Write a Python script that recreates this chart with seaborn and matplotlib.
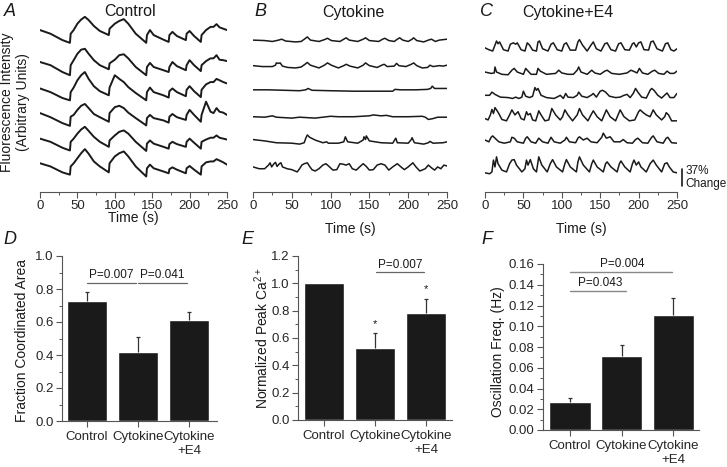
import matplotlib.pyplot as plt
from matplotlib.ticker import MultipleLocator
import seaborn as sns

# ---------- data ----------
# Control traces share one time grid (s); values are % change above each trace's own minimum
control_t = [0, 14, 30, 40, 41, 45, 50, 55, 60, 65, 72, 80, 92, 93, 100, 106, 112, 118, 128, 142,
             143, 147, 152, 165, 172, 173, 177, 183, 195, 196, 200, 206, 215, 216, 222, 228, 232, 236,
             240, 245, 250]
control_1 = [28, 20, 6, 0, 20, 28, 42, 51, 57, 50, 37, 26, 17, 31, 42, 48, 52, 42, 20, 0,
             17, 28, 17, 7, 2, 17, 24, 15, 6, 20, 26, 15, 2, 17, 28, 35, 35, 41, 34, 31, 28]
control_2 = [29, 22, 7, 0, 22, 33, 47, 56, 58, 47, 33, 22, 13, 26, 34, 44, 46, 37, 18, 0,
             18, 27, 18, 11, 7, 18, 29, 20, 11, 22, 33, 22, 9, 22, 31, 37, 37, 44, 34, 33, 31]
control_3 = [26, 18, 5, 0, 18, 28, 44, 55, 62, 47, 31, 20, 11, 28, 55, 47, 40, 29, 16, 0,
             18, 28, 18, 11, 6, 20, 26, 18, 9, 23, 31, 20, 7, 23, 35, 40, 40, 47, 44, 40, 37]
control_4 = [28, 19, 6, 0, 20, 24, 35, 44, 48, 39, 26, 19, 9, 28, 41, 44, 39, 29, 17, 1,
             17, 24, 17, 12, 7, 20, 26, 19, 13, 24, 35, 24, 9, 24, 53, 31, 28, 39, 31, 29, 24]
control_5 = [27, 20, 7, 1, 20, 27, 38, 47, 53, 44, 31, 20, 9, 23, 34, 42, 45, 38, 20, 0,
             16, 23, 16, 9, 5, 15, 20, 15, 9, 20, 27, 18, 5, 20, 25, 29, 29, 34, 29, 27, 25]
control_6 = [29, 22, 9, 4, 22, 29, 40, 51, 60, 50, 33, 22, 9, 29, 44, 51, 55, 44, 22, 0,
             18, 26, 18, 11, 7, 16, 20, 15, 7, 18, 23, 15, 4, 22, 31, 33, 33, 38, 35, 31, 26]

# Cytokine traces: (time s, % change)
cytokine_1 = [(0, 4), (15, 3), (25, 1), (33, 4), (37, 6), (42, 2), (55, 0), (62, 1), (67, 7), (70, 11),
              (74, 4), (85, 1), (92, 5), (96, 8), (101, 3), (112, 1), (117, 6), (120, 9), (124, 4),
              (135, 1), (142, 6), (145, 9), (150, 3), (162, 1), (167, 6), (170, 8), (175, 3), (182, 1),
              (186, 6), (189, 9), (193, 4), (200, 1), (205, 6), (207, 9), (211, 3), (220, 0), (226, 4),
              (230, 6), (235, 1), (240, 4), (245, 5), (250, 6)]
cytokine_2 = [(0, 6), (12, 4), (25, 4), (29, 7), (30, 12), (33, 11), (35, 12), (38, 5), (45, 2), (55, 1),
              (62, 3), (67, 9), (70, 13), (74, 7), (85, 1), (92, 7), (96, 12), (101, 7), (110, 1),
              (117, 6), (120, 9), (125, 5), (135, 1), (142, 7), (145, 12), (150, 6), (160, 2), (166, 7),
              (169, 9), (173, 4), (182, 5), (185, 11), (188, 6), (197, 4), (204, 9), (207, 12), (211, 6),
              (218, 1), (225, 2), (228, 7), (232, 4), (240, 6), (245, 5), (250, 7)]
cytokine_3 = [(0, 4), (20, 4), (40, 3), (60, 2), (68, 4), (71, 7), (76, 3), (100, 2), (130, 1), (160, 1),
              (180, 1), (183, 5), (190, 4), (210, 4), (225, 5), (229, 7), (231, 12), (234, 7), (240, 7),
              (250, 7)]
cytokine_4 = [(0, 7), (15, 6), (25, 9), (30, 6), (50, 4), (60, 6), (80, 4), (100, 8), (110, 7), (130, 7),
              (150, 9), (155, 11), (165, 9), (172, 10), (180, 7), (200, 7), (218, 8), (222, 6), (226, 1),
              (232, 3), (238, 6), (250, 6)]
cytokine_5 = [(0, 12), (15, 9), (30, 5), (50, 4), (60, 2), (66, 5), (68, 15), (70, 22), (73, 17), (80, 11),
              (90, 5), (95, 7), (97, 4), (110, 4), (117, 7), (119, 18), (122, 7), (135, 4), (142, 11),
              (143, 18), (145, 12), (146, 20), (150, 9), (165, 5), (180, 4), (184, 15), (186, 5), (200, 4),
              (204, 12), (205, 16), (208, 5), (220, 2), (226, 5), (228, 8), (232, 4), (245, 5), (250, 7)]
cytokine_6 = [(0, 11), (8, 7), (15, 7), (20, 15), (22, 20), (24, 11), (27, 18), (29, 21), (31, 12), (34, 18),
              (36, 20), (38, 11), (44, 7), (50, 5), (57, 0), (60, 7), (63, 15), (66, 18), (70, 20), (73, 12),
              (76, 5), (80, 2), (85, 7), (90, 15), (94, 18), (98, 12), (103, 4), (108, 5), (112, 18),
              (116, 17), (120, 15), (124, 18), (128, 7), (133, 4), (138, 12), (142, 18), (146, 12),
              (150, 4), (155, 5), (160, 15), (165, 18), (170, 15), (175, 4), (180, 11), (186, 18),
              (190, 12), (195, 5), (200, 11), (206, 20), (210, 11), (215, 2), (222, 7), (226, 15),
              (230, 9), (234, 4), (238, 11), (242, 7), (246, 15), (250, 13)]

# Cytokine+E4 traces: (time s, % change)
e4_1 = [(0, 9), (5, 5), (10, 2), (13, 15), (15, 24), (17, 18), (19, 22), (24, 5), (30, 2), (33, 17), (37, 20),
        (40, 17), (42, 20), (47, 5), (52, 2), (55, 20), (58, 15), (62, 4), (67, 2), (69, 22), (71, 24),
        (75, 7), (82, 2), (86, 17), (89, 20), (94, 5), (100, 2), (103, 17), (106, 20), (111, 4), (118, 4),
        (121, 22), (123, 27), (127, 15), (133, 2), (138, 15), (141, 22), (145, 7), (151, 2), (156, 18),
        (159, 20), (164, 5), (170, 2), (174, 18), (177, 20), (182, 5), (188, 4), (192, 18), (194, 20),
        (197, 11), (200, 20), (203, 22), (207, 5), (213, 4), (216, 22), (219, 24), (224, 7), (231, 2),
        (235, 18), (238, 20), (242, 5), (246, 2), (250, 7)]
e4_2 = [(0, 7), (8, 4), (12, 5), (13, 18), (15, 7), (22, 2), (30, 1), (35, 11), (38, 15), (42, 7), (50, 2),
        (53, 15), (55, 11), (60, 2), (67, 2), (69, 15), (72, 9), (80, 2), (92, 4), (96, 11), (100, 5),
        (108, 2), (115, 2), (120, 11), (122, 18), (125, 7), (133, 2), (139, 11), (143, 5), (150, 2),
        (156, 9), (159, 11), (165, 4), (175, 2), (185, 5), (190, 11), (193, 9), (198, 5), (201, 15),
        (205, 5), (212, 2), (218, 9), (221, 11), (226, 4), (233, 2), (237, 9), (241, 4), (246, 4), (250, 9)]
e4_3 = [(0, 11), (6, 11), (9, 18), (13, 13), (20, 7), (30, 6), (36, 4), (40, 7), (44, 4), (48, 7), (50, 20),
        (53, 9), (58, 6), (62, 9), (65, 28), (67, 22), (69, 26), (73, 11), (80, 6), (90, 4), (96, 9),
        (98, 11), (102, 4), (105, 15), (108, 7), (115, 6), (120, 11), (122, 18), (126, 9), (133, 6),
        (139, 12), (141, 15), (145, 7), (150, 20), (153, 22), (157, 18), (162, 9), (170, 6), (176, 7),
        (181, 11), (185, 13), (189, 6), (193, 15), (196, 26), (199, 18), (204, 7), (210, 5), (215, 22),
        (217, 26), (220, 22), (225, 11), (230, 5), (235, 13), (237, 16), (241, 6), (246, 6), (250, 15)]
e4_4 = [(0, 7), (4, 4), (7, 15), (9, 27), (11, 18), (13, 31), (15, 26), (18, 18), (22, 5), (28, 2), (32, 15),
        (35, 26), (39, 15), (43, 22), (47, 7), (51, 4), (54, 22), (56, 15), (59, 18), (62, 4), (66, 2),
        (69, 18), (70, 24), (73, 15), (78, 2), (83, 4), (87, 29), (92, 15), (98, 4), (101, 11), (104, 26),
        (108, 15), (114, 2), (120, 15), (123, 29), (127, 15), (134, 2), (138, 15), (141, 24), (146, 11),
        (152, 2), (156, 18), (158, 26), (163, 11), (170, 2), (174, 18), (176, 26), (181, 11), (188, 2),
        (195, 4), (200, 22), (202, 26), (206, 20), (210, 15), (215, 11), (219, 26), (223, 15), (230, 4),
        (234, 11), (236, 20), (239, 15), (243, 2), (250, 2)]
e4_5 = [(0, 11), (5, 7), (8, 17), (10, 20), (13, 15), (18, 7), (25, 4), (33, 7), (35, 17), (38, 15), (42, 7),
        (50, 4), (53, 15), (55, 18), (60, 7), (66, 4), (70, 15), (75, 7), (82, 4), (86, 17), (90, 7),
        (98, 4), (104, 11), (106, 17), (110, 7), (118, 5), (121, 15), (123, 18), (128, 11), (133, 15),
        (138, 7), (146, 5), (152, 17), (154, 26), (158, 15), (163, 18), (168, 7), (176, 7), (180, 12),
        (185, 5), (192, 4), (196, 12), (199, 15), (205, 5), (212, 4), (217, 17), (219, 20), (224, 7),
        (232, 4), (236, 15), (238, 17), (243, 5), (250, 4)]
e4_6 = [(0, 3), (6, 1), (9, 5), (11, 31), (13, 16), (15, 38), (17, 23), (22, 9), (28, 5), (32, 23), (35, 31),
        (38, 32), (41, 20), (48, 5), (52, 12), (54, 31), (56, 20), (59, 32), (63, 12), (67, 5), (69, 27),
        (70, 38), (74, 20), (81, 5), (85, 23), (88, 32), (93, 16), (101, 5), (104, 23), (106, 32),
        (111, 16), (119, 5), (121, 27), (123, 38), (128, 20), (136, 5), (139, 23), (141, 31), (146, 16),
        (154, 5), (157, 23), (159, 27), (164, 16), (172, 5), (175, 23), (177, 29), (182, 16), (189, 5),
        (192, 23), (194, 31), (197, 20), (200, 27), (203, 16), (210, 5), (215, 23), (219, 31), (223, 20),
        (230, 5), (234, 23), (237, 25), (240, 16), (245, 5), (250, 3)]

scale_bar_pct = 37

# summary bars
groups = ["Control", "Cytokine", "Cytokine\n+E4"]
coord_area = [0.73, 0.42, 0.61]
coord_area_err = [0.05, 0.09, 0.05]
peak_ca = [1.0, 0.53, 0.78]
peak_ca_err = [0.0, 0.105, 0.105]
osc_freq = [0.027, 0.071, 0.111]
osc_freq_err = [0.004, 0.011, 0.016]

# ---------- style ----------
sns.set_style("ticks")
plt.rcParams['font.family'] = ['Liberation Sans', 'DejaVu Sans']
plt.rcParams['mathtext.fontset'] = 'custom'
plt.rcParams['mathtext.rm'] = 'Liberation Sans'
plt.rcParams['mathtext.it'] = 'Liberation Sans:italic'
ink = '#1a1a1a'
axis_col = '#555555'

fig = plt.figure(figsize=(7.27, 4.67), dpi=100)
W, H = 727, 467


def px_axes(x0, y_top, x1, y_bot):
    return fig.add_axes([x0 / W, 1 - y_bot / H, (x1 - x0) / W, (y_bot - y_top) / H])


def trace_axes(x0, x1):
    ax = px_axes(x0, 10, x1, 192)
    ax.set_xlim(0, 250)
    ax.set_ylim(0, 399)
    sns.despine(ax=ax, left=True)
    ax.set_yticks([])
    ax.set_xticks(range(0, 251, 50))
    ax.xaxis.set_minor_locator(MultipleLocator(25))
    ax.spines['bottom'].set_color(axis_col)
    ax.spines['bottom'].set_linewidth(0.8)
    ax.tick_params(axis='x', labelsize=9.5, length=4, width=0.8, pad=2, color=axis_col)
    ax.tick_params(axis='x', which='minor', length=2.5, width=0.7, color=axis_col)
    ax.set_facecolor('none')
    return ax


def draw_traces(ax, traces, offsets, lw):
    for tr, off in zip(traces, offsets):
        t = [p[0] for p in tr]
        v = [p[1] + off for p in tr]
        sns.lineplot(x=t, y=v, ax=ax, color=ink, lw=lw, estimator=None, sort=False)


# A - control
axA = trace_axes(40, 227)
control = [list(zip(control_t, tr)) for tr in
           [control_1, control_2, control_3, control_4, control_5, control_6]]
draw_traces(axA, control, [327, 256, 201, 145, 90, 34], 1.4)

# B - cytokine
axB = trace_axes(253, 447)
draw_traces(axB, [cytokine_1, cytokine_2, cytokine_3, cytokine_4, cytokine_5, cytokine_6],
            [329, 271, 220, 158, 103, 44], 1.1)

# C - cytokine + E4
axC = trace_axes(485, 677)
draw_traces(axC, [e4_1, e4_2, e4_3, e4_4, e4_5, e4_6],
            [307, 256, 201, 154, 103, 39], 1.1)
axC.plot([256.5, 256.5], [13, 13 + scale_bar_pct], color=ink, lw=1.2, clip_on=False)
axC.text(261, 31, f"{scale_bar_pct}%\nChange", fontsize=8.5, va='center', ha='left',
         linespacing=1.1, color=ink)

for x, y, s in [(133, 218, "Time (s)"), (350, 229, "Time (s)"), (581, 229, "Time (s)")]:
    fig.text(x / W, 1 - y / H, s, fontsize=10, ha='center', va='center', color=ink)

for x, s in [(130, "Control"), (353, "Cytokine"), (568, "Cytokine+E4")]:
    fig.text(x / W, 1 - 12 / H, s, fontsize=11.5, ha='center', va='center', color=ink)

fig.text(15 / W, 1 - 102 / H, "Fluorescence Intensity\n(Arbitrary Units)", rotation=90,
         fontsize=10, ha='center', va='center', linespacing=1.2, color=ink)


# ---------- bar panels ----------
def bar_axes(ax, vals, errs, xlim, ymax, major, minor, fmt):
    sns.barplot(x=groups, y=vals, ax=ax, color=ink, width=0.8, saturation=1, errorbar=None)
    idx = [i for i, e in enumerate(errs) if e > 0]
    eb = ax.errorbar(idx, [vals[i] for i in idx], yerr=[[0] * len(idx), [errs[i] for i in idx]],
                     fmt='none', ecolor='#333333', elinewidth=0.9, capsize=1.6, capthick=0.9)
    eb[1][0].set_visible(False)  # hide the lower caps sitting on the bar tops
    ax.set_xlim(*xlim)
    ax.set_ylim(0, ymax)
    ax.yaxis.set_major_locator(MultipleLocator(major))
    ax.yaxis.set_minor_locator(MultipleLocator(minor))
    ax.yaxis.set_major_formatter(fmt)
    sns.despine(ax=ax)
    for s in ['left', 'bottom']:
        ax.spines[s].set_color(axis_col)
        ax.spines[s].set_linewidth(0.8)
    ax.tick_params(axis='both', labelsize=9.5, length=4, width=0.8, pad=2, color=axis_col)
    ax.tick_params(axis='y', which='minor', length=2.5, width=0.7, color=axis_col)
    ax.tick_params(axis='x', pad=3)
    ax.set_xlabel("")
    ax.set_ylabel("")
    ax.set_facecolor('none')


axD = px_axes(62, 256, 217, 421)
bar_axes(axD, coord_area, coord_area_err, (-0.49, 2.55), 1.0, 0.2, 0.1, "{x:.1f}")
axD.plot([0, 0.96], [0.838, 0.838], color='#666666', lw=0.9)
axD.plot([1.01, 1.96], [0.838, 0.838], color='#666666', lw=0.9)
axD.text(0.48, 0.85, "P=0.007", fontsize=8.5, ha='center', va='bottom', color=ink)
axD.text(1.48, 0.85, "P=0.041", fontsize=8.5, ha='center', va='bottom', color=ink)

axE = px_axes(298, 256, 452, 420)
bar_axes(axE, peak_ca, peak_ca_err, (-0.51, 2.51), 1.2, 0.2, 0.1, "{x:.1f}")
axE.plot([1.02, 1.96], [1.08, 1.08], color='#666666', lw=0.9)
axE.text(1.49, 1.09, "P=0.007", fontsize=8.5, ha='center', va='bottom', color=ink)
axE.text(1, 0.70, "*", fontsize=8, ha='center', va='center', color=ink)
axE.text(2, 0.955, "*", fontsize=8, ha='center', va='center', color=ink)

axF = px_axes(543, 264, 699, 430)
bar_axes(axF, osc_freq, osc_freq_err, (-0.52, 2.5), 0.16, 0.02, 0.01, "{x:.2f}")
axF.plot([0, 1.98], [0.1526, 0.1526], color='#888888', lw=1.0, clip_on=False)
axF.plot([0, 1.08], [0.134, 0.134], color='#888888', lw=1.0)
axF.text(1.02, 0.1545, "P=0.004", fontsize=8.5, ha='center', va='bottom', color=ink)
axF.text(0.58, 0.1358, "P=0.043", fontsize=8.5, ha='center', va='bottom', color=ink)

fig.text(22 / W, 1 - 340 / H, "Fraction Coordinated Area", rotation=90, fontsize=10,
         ha='center', va='center', color=ink)
fig.text(262 / W, 1 - 338 / H, "Normalized Peak Ca$^{2+}$", rotation=90, fontsize=10,
         ha='center', va='center', color=ink)
fig.text(498 / W, 1 - 352 / H, "Oscillation Freq. (Hz)", rotation=90, fontsize=10,
         ha='center', va='center', color=ink)

# panel letters
for x, y, s in [(4, 12, "A"), (254, 12, "B"), (480, 12, "C"),
                (3, 240, "D"), (241, 240, "E"), (481, 240, "F")]:
    fig.text(x / W, 1 - y / H, s, fontsize=13, style='italic', ha='left', va='center', color=ink)

fig.savefig("out.png", dpi=100)
